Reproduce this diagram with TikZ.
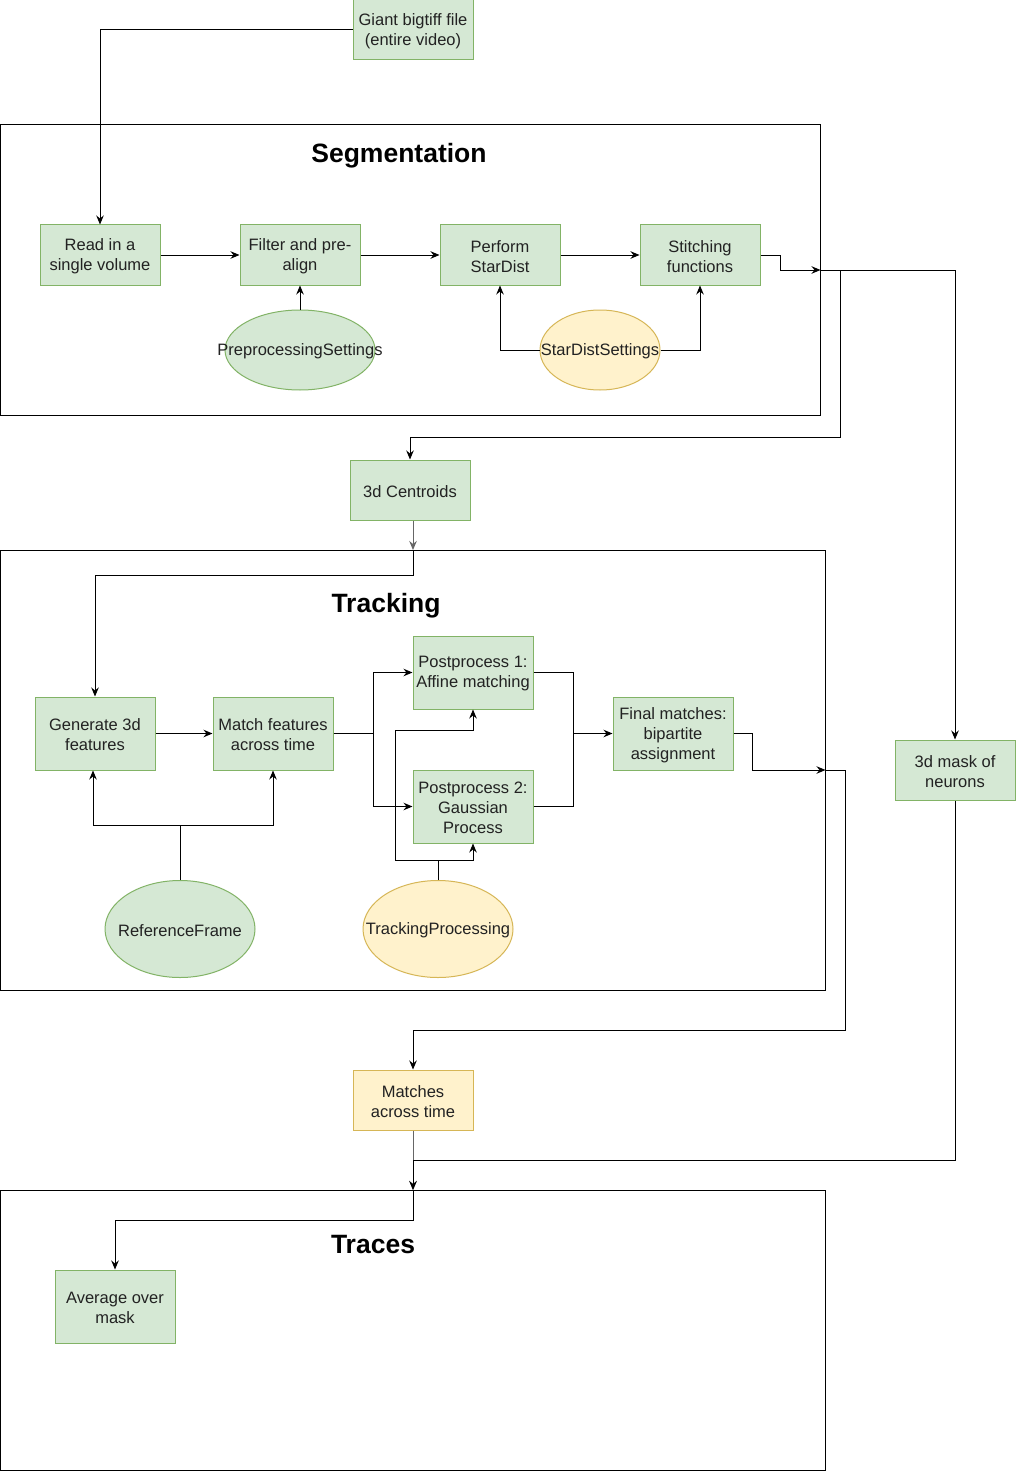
\documentclass[tikz,border=0pt]{standalone}
\usepackage{fontspec}
\setmainfont{Liberation Sans}
\usetikzlibrary{shapes.geometric,arrows.meta}
\definecolor{gfill}{HTML}{D5E8D4}
\definecolor{gline}{HTML}{82B366}
\definecolor{yfill}{HTML}{FFF2CC}
\definecolor{yline}{HTML}{D6B656}
\definecolor{txt}{HTML}{222222}
\definecolor{edgegray}{HTML}{666666}
\tikzset{
  gbox/.style={draw=gline, fill=gfill, line width=1pt, minimum width=120pt, minimum height=60pt, inner sep=0pt},
  ybox/.style={gbox, draw=yline, fill=yfill},
  gell/.style={ellipse, draw=gline, fill=gfill, line width=1pt, inner sep=0pt},
  yell/.style={ellipse, draw=yline, fill=yfill, line width=1pt, inner sep=0pt},
  btxt/.style={font=\fontsize{16.5}{20}\selectfont, text=txt, inner sep=0pt, align=center, yshift=-1.5pt},
  container/.style={draw=black, line width=1pt, anchor=north west, inner sep=0pt, outer sep=0pt},
  ttl/.style={font=\fontsize{26.5}{30}\bfseries\selectfont, text=black},
  conn/.style={draw=black, line width=1pt},
  arr/.style={conn, -{Stealth[length=9pt,width=7.5pt,inset=3pt]}},
}
\begin{document}
\begin{tikzpicture}[x=1pt,y=-1pt]
\useasboundingbox (0,0) rectangle (1016,1471);
\fill[white] (0,0) rectangle (1016,1471);

% containers
\node[container, minimum width=820pt, minimum height=290pt] (seg) at (0.5,125) {};
\node[container, minimum width=825pt, minimum height=440pt] (trk) at (0.5,550) {};
\node[container, minimum width=825pt, minimum height=280pt] (trc) at (0.5,1190) {};

\node[ttl] (segt) at (399,156) {Segmentation};
\node[ttl] (trkt) at (386,606) {Tracking};
\node[ttl] (trct) at (373,1244) {Traces};

% nodes
\node[gbox] (giant) at (413,30) {};
\node[btxt] (giantt) at (giant.center) {Giant bigtiff file\\(entire video)};
\node[gbox] (read) at (100,255) {};
\node[btxt] (readt) at (read.center) {Read in a\\single volume};
\node[gbox] (filt) at (300,255) {};
\node[btxt] (filtt) at (filt.center) {Filter and pre-\\align};
\node[gbox] (sd) at (500,255) {};
\node[btxt] (sdt) at (sd.center) {Perform\\StarDist};
\node[gbox] (stitch) at (700,255) {};
\node[btxt] (stitcht) at (stitch.center) {Stitching\\functions};
\node[gell, minimum width=150pt, minimum height=80pt] (pps) at (300,350) {};
\node[btxt] (ppst) at (pps.center) {PreprocessingSettings};
\node[yell, minimum width=120pt, minimum height=80pt] (sds) at (600,350) {};
\node[btxt] (sdst) at (sds.center) {StarDistSettings};

\node[gbox] (cent) at (410,490) {};
\node[btxt] (centt) at (cent.center) {3d Centroids};

\node[gbox, minimum height=73pt] (gen) at (95,733.5) {};
\node[btxt] (gent) at (gen.center) {Generate 3d\\features};
\node[gbox, minimum height=73pt] (match) at (273,733.5) {};
\node[btxt] (matcht) at (match.center) {Match features\\across time};
\node[gbox, minimum height=73pt] (pp1) at (473,672.5) {};
\node[btxt] (pp1t) at (pp1.center) {Postprocess 1:\\Affine matching};
\node[gbox, minimum height=73pt] (pp2) at (473,806.5) {};
\node[btxt] (pp2t) at (pp2.center) {Postprocess 2:\\Gaussian\\Process};
\node[gbox, minimum height=73pt] (fin) at (673,733.5) {};
\node[btxt] (fint) at (fin.center) {Final matches:\\bipartite\\assignment};
\node[gell, minimum width=150pt, minimum height=97pt] (rf) at (180,929) {};
\node[btxt] (rft) at (rf.center) {ReferenceFrame};
\node[yell, minimum width=150pt, minimum height=97pt] (tp) at (438,929) {};
\node[btxt] (tpt) at (tp.center) {TrackingProcessing};

\node[gbox] (mask) at (955,770) {};
\node[btxt] (maskt) at (mask.center) {3d mask of\\neurons};
\node[ybox] (mat) at (413,1100) {};
\node[btxt] (matt) at (mat.center) {Matches\\across time};
\node[gbox, minimum height=73pt] (avg) at (115,1306.5) {};
\node[btxt] (avgt) at (avg.center) {Average over\\mask};

% junction coordinates
\coordinate (jseg) at (840,270);
\coordinate (jcent) at (840,437);
\coordinate (jsplit) at (373,733.5);
\coordinate (jmerge) at (573,733.5);
\coordinate (jtp) at (438,860);
\coordinate (jtp2) at (395,860);
\coordinate (jtp3) at (395,730);
\coordinate (jrf) at (180,825);
\coordinate (jfin) at (752,733.5);
\coordinate (jtrk) at (845,770);
\coordinate (jtrk2) at (845,1030);
\coordinate (jmask) at (955,1160);

% segmentation edges
\draw[arr] (giant.west) -| (read.north);
\draw[arr] (read) -- (filt);
\draw[arr] (filt) -- (sd);
\draw[arr] (sd) -- (stitch);
\draw[arr] (pps.north) -- (filt.south);
\draw[arr] (sds.west) -| (sd.south);
\draw[arr] (sds.east) -| (stitch.south);
\draw[arr] (stitch.east) -- ++(20,0) |- (seg.east);
\draw[arr] (seg.east) -| (mask.north);
\draw[arr] (seg.east) -- (jseg) -- (jcent) -| (cent.north);

% tracking edges
\draw[arr, draw=edgegray] (cent.south -| trk.north) -- (trk.north);
\draw[arr] (trk.north) -- ++(0,25) -| (gen.north);
\draw[arr] (gen) -- (match);
\draw[conn] (match.east) -- (jsplit);
\draw[arr] (jsplit) |- (pp1.west);
\draw[arr] (jsplit) |- (pp2.west);
\draw[conn] (pp1.east) -| (jmerge);
\draw[conn] (pp2.east) -| (jmerge);
\draw[arr] (jmerge) -- (fin.west);
\draw[conn] (tp.north) -- (jtp);
\draw[arr] (jtp) -| (pp2.south);
\draw[arr] (jtp) -- (jtp2) -- (jtp3) -| (pp1.south);
\draw[conn] (rf.north) -- (jrf);
\draw[arr] (jrf) -| ([xshift=-2pt]gen.south);
\draw[arr] (jrf) -| (match.south);
\draw[arr] (fin.east) -- (jfin) |- (trk.east);
\draw[arr] (trk.east) -- (jtrk) -- (jtrk2) -| (mat.north);

% traces edges
\draw[arr, draw=edgegray] (mat.south) -- (trc.north);
\draw[arr] (mask.south) -- (jmask) -| (trc.north);
\draw[arr] (trc.north) -- ++(0,30) -| (avg.north);
\end{tikzpicture}
\end{document}
